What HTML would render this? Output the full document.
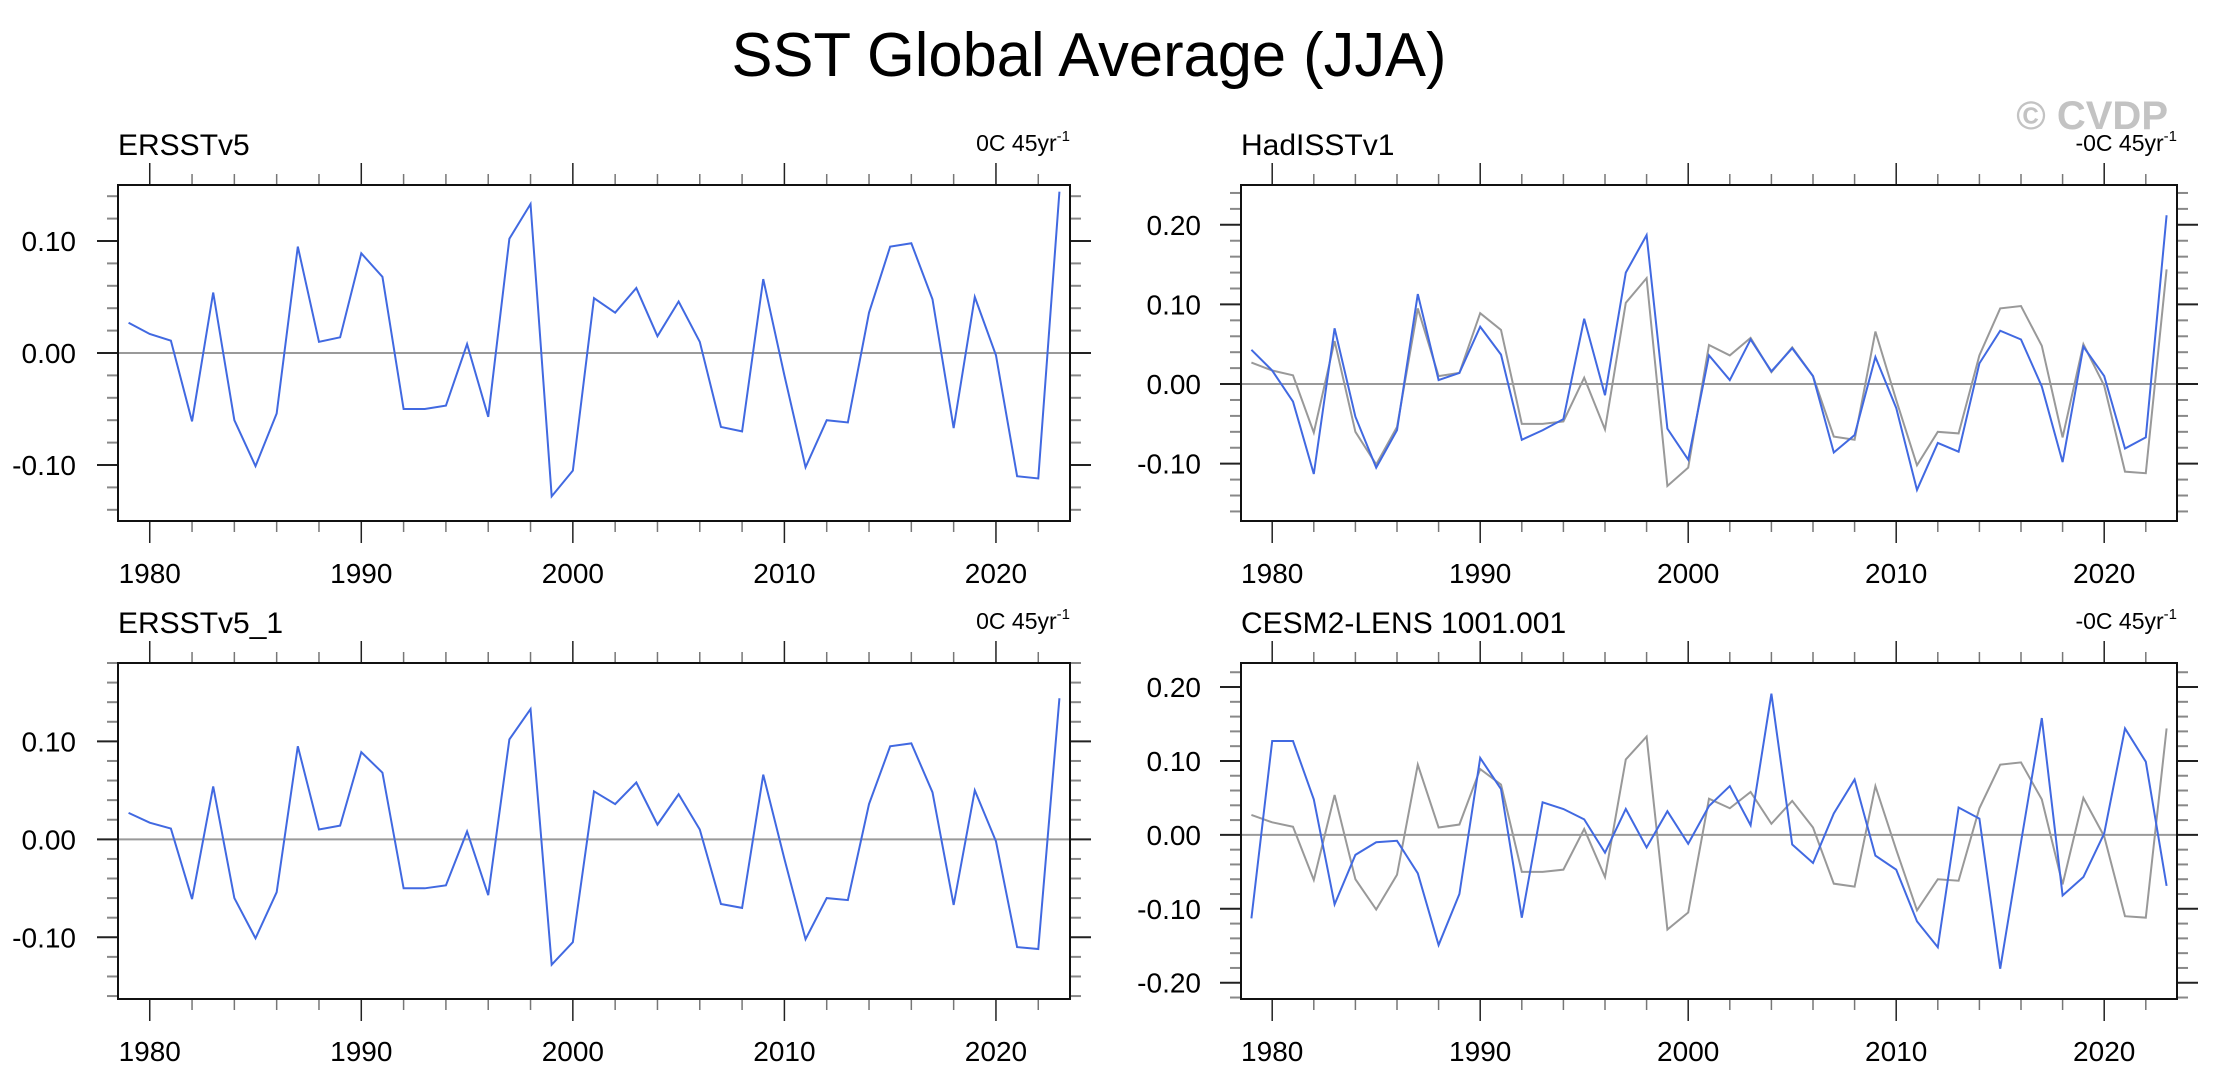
<!DOCTYPE html>
<html><head><meta charset="utf-8"><style>
html,body{margin:0;padding:0;background:#fff;}
svg{display:block;font-family:"Liberation Sans",Arial,sans-serif;}
</style></head><body>
<svg id="fig" width="2219" height="1092" viewBox="0 0 2219 1092" xmlns="http://www.w3.org/2000/svg">
<rect x="0" y="0" width="2219" height="1092" fill="#fff"/>
<text x="1089" y="76" font-size="62" text-anchor="middle" textLength="715" lengthAdjust="spacingAndGlyphs">SST Global Average (JJA)</text>
<text x="2168" y="129" font-size="40" font-weight="bold" fill="#c3c3c3" text-anchor="end">© CVDP</text>
</svg>
<script>
const years = [];
for (let y = 1979; y <= 2023; y++) years.push(y);
const ersst = [0.027,0.017,0.011,-0.061,0.054,-0.060,-0.101,-0.054,0.095,0.010,0.014,0.089,0.068,-0.050,-0.050,-0.047,0.008,-0.057,0.102,0.133,-0.128,-0.105,0.049,0.036,0.058,0.015,0.046,0.010,-0.066,-0.070,0.066,-0.020,-0.102,-0.060,-0.062,0.036,0.095,0.098,0.048,-0.067,0.050,-0.002,-0.110,-0.112,0.144];
const hadisst = [0.043,0.017,-0.022,-0.113,0.070,-0.041,-0.105,-0.058,0.113,0.005,0.014,0.072,0.037,-0.070,-0.058,-0.044,0.082,-0.014,0.140,0.187,-0.056,-0.095,0.036,0.005,0.056,0.016,0.045,0.010,-0.086,-0.064,0.034,-0.030,-0.133,-0.074,-0.085,0.026,0.067,0.056,-0.003,-0.098,0.047,0.010,-0.081,-0.067,0.212];
const cesm = [-0.113,0.127,0.127,0.048,-0.094,-0.027,-0.010,-0.008,-0.052,-0.149,-0.080,0.104,0.062,-0.112,0.044,0.035,0.021,-0.024,0.035,-0.017,0.032,-0.012,0.039,0.066,0.013,0.191,-0.013,-0.038,0.029,0.075,-0.028,-0.047,-0.117,-0.152,0.037,0.022,-0.181,-0.010,0.158,-0.082,-0.057,0.002,0.144,0.099,-0.069];
const xTickLabels = [1980,1990,2000,2010,2020];
const yTicksSmall = [-0.10,0.00,0.10];
const yTicksLarge = [-0.20,-0.10,0.00,0.10,0.20];

const NS = 'http://www.w3.org/2000/svg';
const svg = document.getElementById('fig');
function mk(tag, attrs, parent){
  const e = document.createElementNS(NS, tag);
  for (const k in attrs) e.setAttribute(k, attrs[k]);
  (parent||svg).appendChild(e);
  return e;
}
const panels = [
  {id:'ersstv5', title:'ERSSTv5', trend:'0C 45yr', x0:118, x1:1070, y0:185, y1:521, vmin:-0.15, vmax:0.15, yt:yTicksSmall, main:ersst, ref:null, lx:76},
  {id:'hadisstv1', title:'HadISSTv1', trend:'-0C 45yr', x0:1241, x1:2177, y0:185, y1:521, vmin:-0.172, vmax:0.25, yt:[-0.10,0.00,0.10,0.20], main:hadisst, ref:ersst, lx:1201},
  {id:'ersstv5-1', title:'ERSSTv5_1', trend:'0C 45yr', x0:118, x1:1070, y0:663, y1:999, vmin:-0.163, vmax:0.18, yt:yTicksSmall, main:ersst, ref:null, lx:76},
  {id:'cesm2-lens', title:'CESM2-LENS 1001.001', trend:'-0C 45yr', x0:1241, x1:2177, y0:663, y1:999, vmin:-0.222, vmax:0.2325, yt:yTicksLarge, main:cesm, ref:ersst, lx:1201}
];
panels.forEach(p => {
  const g = mk('g', {});
  
  
  const xs = v => p.x0 + (v - 1978.5) / 45 * (p.x1 - p.x0);
  const ys = v => p.y1 - (v - p.vmin) / (p.vmax - p.vmin) * (p.y1 - p.y0);
  const t = mk('text', {x:p.x0, y:p.y0-30, 'font-size':30}, g);
  t.textContent = p.title;
  
  
  const tr = mk('text', {x:p.x1, y:p.y0-34, 'font-size':23, 'text-anchor':'end'}, g);
  tr.textContent = p.trend;
  const sup = mk('tspan', {'font-size':15, dy:-10}, tr);
  sup.textContent = '-1';
  
  
  const z = mk('line', {x1:p.x0, x2:p.x1, y1:ys(0), y2:ys(0), stroke:'#999', 'stroke-width':2}, g);
  
  
  for (let k = Math.ceil(p.vmin/0.02); k*0.02 <= p.vmax + 1e-9; k++) {
    const v = k*0.02, y = ys(v);
    const major = Math.abs(Math.round(v*10) - v*10) < 1e-6;
    const L = major ? 21 : 11;
    mk('line', {x1:p.x0-L, x2:p.x0, y1:y, y2:y, stroke: major?'#222':'#888', 'stroke-width':2}, g);
    mk('line', {x1:p.x1, x2:p.x1+L, y1:y, y2:y, stroke: major?'#222':'#888', 'stroke-width':2}, g);
  }
  p.yt.forEach(v => {
    const lab = mk('text', {x:p.lx, y:ys(v)+10, 'font-size':28, 'text-anchor':'end'}, g);
    lab.textContent = v.toFixed(2);
    
    
  });
  for (let yr = 1980; yr <= 2023; yr += 2) {
    const x = xs(yr);
    const major = yr % 10 === 0;
    const L = major ? 22 : 11;
    mk('line', {x1:x, x2:x, y1:p.y0-L, y2:p.y0, stroke: major?'#222':'#777', 'stroke-width':1.5}, g);
    mk('line', {x1:x, x2:x, y1:p.y1, y2:p.y1+L, stroke: major?'#222':'#777', 'stroke-width':1.5}, g);
  }
  xTickLabels.forEach(v => {
    const lab = mk('text', {x:xs(v), y:p.y1+62, 'font-size':28, 'text-anchor':'middle'}, g);
    lab.textContent = v;
    
    
  });
  if (p.ref) {
    const r = mk('polyline', {points: p.ref.map((v,i)=>xs(years[i])+','+ys(v)).join(' '), fill:'none', stroke:'#999', 'stroke-width':2}, g);
    
    
  }
  const m = mk('polyline', {points: p.main.map((v,i)=>xs(years[i])+','+ys(v)).join(' '), fill:'none', stroke:'#4169e1', 'stroke-width':2}, g);
  
  
  const box = mk('rect', {x:p.x0, y:p.y0, width:p.x1-p.x0, height:p.y1-p.y0, fill:'none', stroke:'#111', 'stroke-width':2}, g);
  
  
});
</script>
</body></html>
